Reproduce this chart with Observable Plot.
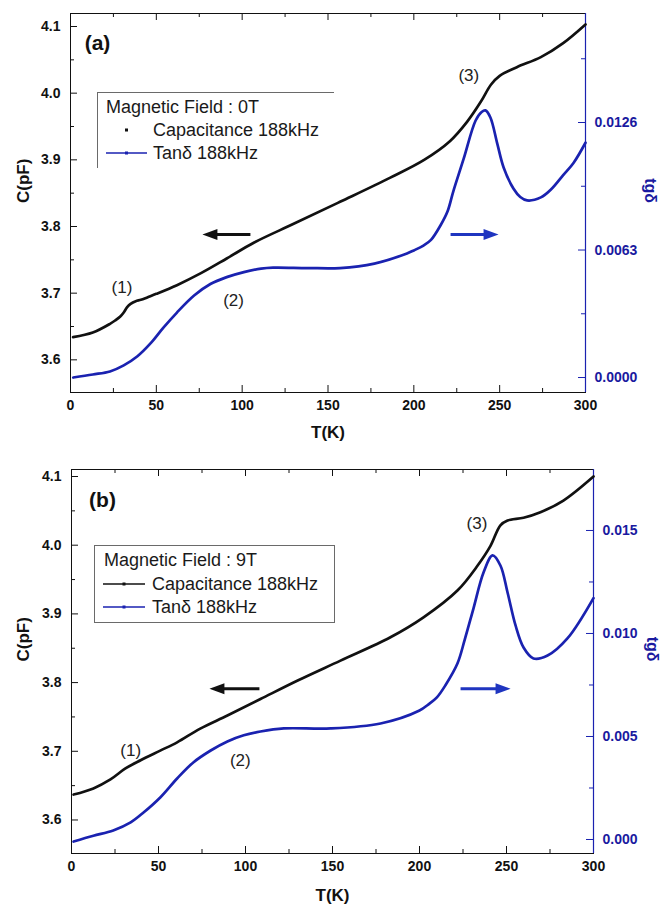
<!DOCTYPE html>
<html><head><meta charset="utf-8">
<script src="https://cdn.jsdelivr.net/npm/d3@7"></script>
<script src="https://cdn.jsdelivr.net/npm/@observablehq/plot@0.6"></script>
<style>
body{margin:0;background:#fff;font-family:"Liberation Sans",Arial,sans-serif;}
#wrap{position:relative;width:662px;height:909px;overflow:hidden;}
.panel{position:absolute;left:0;}
.legend{position:absolute;box-sizing:border-box;}
.ltxt{position:absolute;font-size:18px;line-height:20px;white-space:nowrap;color:#1a1a1a;}
.lsym{position:absolute;}
</style></head><body><div id="wrap"></div>
<script>
// ---------- data: panel (a), 0 T ----------
const capA_T = [1.5, 13, 23, 26, 29, 31, 33, 35, 38, 41, 45, 50, 62, 76, 91, 107, 130, 157, 186, 206, 221, 231, 239, 245, 250, 260, 274, 287, 300];
const capA_C = [3.634, 3.641, 3.654, 3.659, 3.665, 3.671, 3.679, 3.684, 3.688, 3.690, 3.694, 3.699, 3.712, 3.730, 3.752, 3.776, 3.804, 3.837, 3.873, 3.900, 3.928, 3.957, 3.987, 4.013, 4.026, 4.039, 4.054, 4.075, 4.103];
const tanA_T = [1.6, 13, 23, 31, 39, 47, 54, 62, 72, 81.5, 91, 101, 111, 118, 138, 157, 177, 196, 200, 205.6, 210, 215.5, 219.6, 223, 229, 236, 239.5, 241.7, 244.6, 248.6, 252.3, 258, 262, 266, 274, 280, 287, 293, 300];
const tanA_V = [0.0, 0.00015, 0.0003, 0.0006, 0.00105, 0.00172, 0.00245, 0.00321, 0.00405, 0.00462, 0.00496, 0.00521, 0.00538, 0.00543, 0.00541, 0.00541, 0.00563, 0.00613, 0.00628, 0.00652, 0.0068, 0.00751, 0.0082, 0.0092, 0.0108, 0.0127, 0.01312, 0.0132, 0.01285, 0.01156, 0.01038, 0.00934, 0.00892, 0.00875, 0.0089, 0.0093, 0.0100, 0.0106, 0.0116];

// ---------- data: panel (b), 9 T ----------
const capB_T = [1.2, 12.6, 22.4, 31, 39.7, 51, 60.7, 74, 89.6, 108.6, 130, 154.6, 183.3, 202.3, 221.8, 233.3, 240.8, 246.5, 250.6, 259.8, 269.5, 282.7, 300];
const capB_C = [3.637, 3.646, 3.659, 3.675, 3.687, 3.701, 3.713, 3.733, 3.752, 3.776, 3.803, 3.832, 3.866, 3.895, 3.934, 3.970, 3.999, 4.029, 4.036, 4.040, 4.048, 4.065, 4.100];
const tanB_T = [1.2, 12.6, 24, 34, 41.4, 51, 60.7, 70, 80, 89.6, 99, 108.6, 122, 149, 177.6, 200, 205, 210, 215, 221.8, 226, 231, 236.8, 242, 246.5, 250.6, 255.2, 259.8, 265.5, 273.6, 285, 300];
const tanB_V = [-0.0001, 0.00018, 0.00044, 0.00083, 0.00131, 0.00204, 0.00296, 0.00374, 0.00432, 0.00476, 0.00506, 0.00524, 0.00539, 0.00539, 0.00563, 0.00626, 0.00655, 0.0069, 0.0075, 0.00854, 0.0097, 0.01121, 0.01296, 0.01379, 0.0133, 0.01199, 0.01039, 0.00932, 0.00879, 0.00893, 0.00976, 0.01172];

// ---------- ticks ----------
const xMajor = [0, 50, 100, 150, 200, 250, 300];
const xMinor = [25, 75, 125, 175, 225, 275];
const cMajor = [3.6, 3.7, 3.8, 3.9, 4.0, 4.1];
const cMinor = [3.65, 3.75, 3.85, 3.95, 4.05];
const tanA_major = [0, 0.0063, 0.0126];
const tanA_minor = [0.00315, 0.00945, 0.01575];
const tanA_labels = ["0.0000", "0.0063", "0.0126"];
const tanB_major = [0, 0.005, 0.010, 0.015];
const tanB_minor = [0.0025, 0.0075, 0.0125];
const tanB_labels = ["0.000", "0.005", "0.010", "0.015"];

// ---------- annotations ----------
const notesA_text = ["(1)", "(2)", "(3)"];
const notesA_T = [30, 95, 232];
const notesA_C = [3.709, 3.689, 4.027];
const notesB_text = ["(1)", "(2)", "(3)"];
const notesB_T = [34, 97, 233];
const notesB_C = [3.701, 3.687, 4.032];
const arrowsA_T = [104.8, 221.4];   // tail positions
const arrowsA_C = [3.788, 3.788];
const arrowsB_T = [108, 223.6];
const arrowsB_C = [3.791, 3.791];
const arrowDir = [-90, 90];          // left (capacitance), right (tan δ)

const BLACK = "#111";
const BLUE = "#1a22b0";
const BLUE_TXT = "#1a1aa0";
const FONT = "Liberation Sans, Arial, sans-serif";

const arrowShape = {
  draw(ctx, l) {
    const h = 15, w = 1.6, hw = 5.5;
    ctx.moveTo(-w, 0); ctx.lineTo(-w, -(l - h)); ctx.lineTo(-hw, -(l - h));
    ctx.lineTo(0, -l); ctx.lineTo(hw, -(l - h)); ctx.lineTo(w, -(l - h));
    ctx.lineTo(w, 0); ctx.closePath();
  }
};

function panel(cfg) {
  const W = 662;
  const xDom = [0, 300];
  const k = (cfg.cDomain[1] - cfg.cDomain[0]) / (cfg.tDomain[1] - cfg.tDomain[0]);
  const toC = t => cfg.cDomain[0] + (t - cfg.tDomain[0]) * k;
  // data units per pixel (for tick-mark lengths)
  const cPx = (cfg.cDomain[1] - cfg.cDomain[0]) / (cfg.height - cfg.mt - cfg.mb);
  const tPx = (xDom[1] - xDom[0]) / (W - cfg.ml - cfg.mr);
  const cap = cfg.capT.map((T, i) => ({T, C: cfg.capC[i]}));
  const tan = cfg.tanT.map((T, i) => ({T, C: toC(cfg.tanV[i])}));
  const rMajor = cfg.rMajor.map(toC);
  const rMinor = cfg.rMinor.map(toC);
  const rLab = new Map(rMajor.map((v, i) => [v, cfg.rLabels[i]]));
  const notes = cfg.notesText.map((t, i) => ({t, T: cfg.notesT[i], C: cfg.notesC[i]}));
  const arrows = cfg.arrowsT.map((T, i) => ({T, C: cfg.arrowsC[i], r: arrowDir[i]}));
  const tickText = {fontWeight: "bold", fontSize: 14, fontFamily: FONT, label: null};
  const c0 = cfg.cDomain[0], c1 = cfg.cDomain[1];
  const xt = (vals, len, edge, dir) => Plot.ruleX(vals, {y1: edge, y2: edge + dir * len * cPx, stroke: BLACK, strokeWidth: 1});
  const yt = (vals, len, edge, dir, color) => Plot.ruleY(vals, {x1: edge, x2: edge + dir * len * tPx, stroke: color, strokeWidth: 1});
  return Plot.plot({
    width: W, height: cfg.height,
    marginLeft: cfg.ml, marginRight: cfg.mr, marginTop: cfg.mt, marginBottom: cfg.mb,
    style: {fontFamily: FONT, background: "#fff", overflow: "visible"},
    x: {domain: xDom, label: null},
    y: {domain: cfg.cDomain, label: null},
    marks: [
      // axes: labels
      Plot.axisX(xMajor, {anchor: "bottom", tickSize: 0, tickPadding: 8, tickFormat: d => String(d), fill: BLACK, ...tickText}),
      Plot.axisY(cMajor, {anchor: "left", tickSize: 0, tickPadding: 10, tickFormat: d => d.toFixed(1), fill: BLACK, ...tickText}),
      Plot.axisY(rMajor, {anchor: "right", tickSize: 0, tickPadding: 9, tickFormat: d => rLab.get(d), fill: BLUE_TXT, ...tickText}),
      // axes: inward tick marks
      xt(xMajor, 7, c0, 1), xt(xMinor, 4, c0, 1),
      xt(xMajor, 7, c1, -1), xt(xMinor, 4, c1, -1),
      yt(cMajor, 7, xDom[0], 1, BLACK), yt(cMinor, 4, xDom[0], 1, BLACK),
      yt(rMajor, 7, xDom[1], -1, BLUE), yt(rMinor, 4, xDom[1], -1, BLUE),
      Plot.frame({stroke: BLACK, strokeWidth: 1}),
      Plot.ruleX([xDom[1]], {stroke: BLUE, strokeWidth: 1.2}),
      // axis titles
      Plot.text(["C(pF)"], {text: d => d, frameAnchor: "left", dx: cfg.cLabDx, rotate: -90, fontWeight: "bold", fontSize: 17, fill: BLACK}),
      Plot.text(["T(K)"], {text: d => d, frameAnchor: "bottom", dy: cfg.tLabDy, fontWeight: "bold", fontSize: 17, fill: BLACK}),
      Plot.text(["tgδ"], {text: d => d, frameAnchor: "right", dx: cfg.rLabDx, rotate: 90, fontWeight: "bold", fontSize: 16, fill: BLUE_TXT}),
      // curves
      Plot.line(tan, {x: "T", y: "C", stroke: BLUE, strokeWidth: 2.7, curve: "catmull-rom"}),
      Plot.line(cap, {x: "T", y: "C", stroke: BLACK, strokeWidth: 2.7, curve: "catmull-rom"}),
      // annotations
      Plot.text(notes, {x: "T", y: "C", text: "t", fontSize: 17, fill: "#222"}),
      Plot.text([cfg.tag], {text: d => d, frameAnchor: "top-left", dx: cfg.tagDx, dy: cfg.tagDy, textAnchor: "middle", lineAnchor: "middle", fontWeight: "bold", fontSize: 21, fill: BLACK}),
      Plot.vector([arrows[0]], {x: "T", y: "C", rotate: "r", length: cfg.arrowLen, anchor: "start", shape: arrowShape, fill: BLACK, stroke: "none"}),
      Plot.vector([arrows[1]], {x: "T", y: "C", rotate: "r", length: cfg.arrowLen, anchor: "start", shape: arrowShape, fill: "#1f35c0", stroke: "none"})
    ]
  });
}

const wrap = document.getElementById("wrap");
function place(el, top) { el.classList.add("panel"); el.style.top = top + "px"; wrap.appendChild(el); }

place(panel({
  height: 454, ml: 70, mr: 77, mt: 13, mb: 62,
  cDomain: [3.551, 4.1195], tDomain: [-0.00074, 0.017986],
  capT: capA_T, capC: capA_C, tanT: tanA_T, tanV: tanA_V,
  rMajor: tanA_major, rMinor: tanA_minor, rLabels: tanA_labels,
  notesText: notesA_text, notesT: notesA_T, notesC: notesA_C,
  arrowsT: arrowsA_T, arrowsC: arrowsA_C, arrowLen: 48,
  cLabDx: -47, tLabDy: 45, rLabDx: 65, tag: "(a)", tagDx: 27, tagDy: 30
}), 0);

place(panel({
  height: 455, ml: 71, mr: 69, mt: 15, mb: 56,
  cDomain: [3.5512, 4.1102], tDomain: [-0.00068, 0.01796],
  capT: capB_T, capC: capB_C, tanT: tanB_T, tanV: tanB_V,
  rMajor: tanB_major, rMinor: tanB_minor, rLabels: tanB_labels,
  notesText: notesB_text, notesT: notesB_T, notesC: notesB_C,
  arrowsT: arrowsB_T, arrowsC: arrowsB_C, arrowLen: 50,
  cLabDx: -48, tLabDy: 47, rLabDx: 59, tag: "(b)", tagDx: 31, tagDy: 31
}), 454);

// ---------- legends (HTML overlay) ----------
function box(left, top, w, h, borders) {
  const d = document.createElement("div");
  d.className = "legend";
  Object.assign(d.style, {left: left + "px", top: top + "px", width: w + "px", height: h + "px"});
  for (const b of borders) d.style["border" + b] = "1px solid #6a6a6a";
  wrap.appendChild(d);
}
function txt(s, left, cy) {
  const d = document.createElement("div");
  d.className = "ltxt"; d.textContent = s;
  d.style.left = left + "px"; d.style.top = (cy - 10) + "px";
  wrap.appendChild(d);
}
function sym(x1, x2, cy, color, withLine) {
  const s = document.createElementNS("http://www.w3.org/2000/svg", "svg");
  s.setAttribute("width", x2 - x1 + 4); s.setAttribute("height", 8);
  s.classList.add("lsym");
  s.style.left = (x1 - 2) + "px"; s.style.top = (cy - 4) + "px";
  const w = x2 - x1;
  s.innerHTML = (withLine ? `<line x1="2" x2="${w + 2}" y1="4" y2="4" stroke="${color}" stroke-width="1.3"/>` : "") +
    `<rect x="${w / 2 + 0.5}" y="2.5" width="3" height="3" fill="${color}"/>`;
  wrap.appendChild(s);
}
const legendA = ["Magnetic Field : 0T", "Capacitance 188kHz", "Tanδ 188kHz"];
const legendB = ["Magnetic Field : 9T", "Capacitance 188kHz", "Tanδ 188kHz"];

box(97, 92, 237, 76, ["Top", "Left"]);
txt(legendA[0], 106, 107);
sym(106, 147, 130, BLACK, false);
txt(legendA[1], 153, 130);
sym(106, 147, 153, BLUE, true);
txt(legendA[2], 153, 153);

box(94, 545, 241, 78, ["Top", "Left", "Right", "Bottom"]);
txt(legendB[0], 104, 560);
sym(103, 145, 584, BLACK, true);
txt(legendB[1], 152, 584);
sym(103, 145, 607, BLUE, true);
txt(legendB[2], 152, 607);
</script>
</body></html>
